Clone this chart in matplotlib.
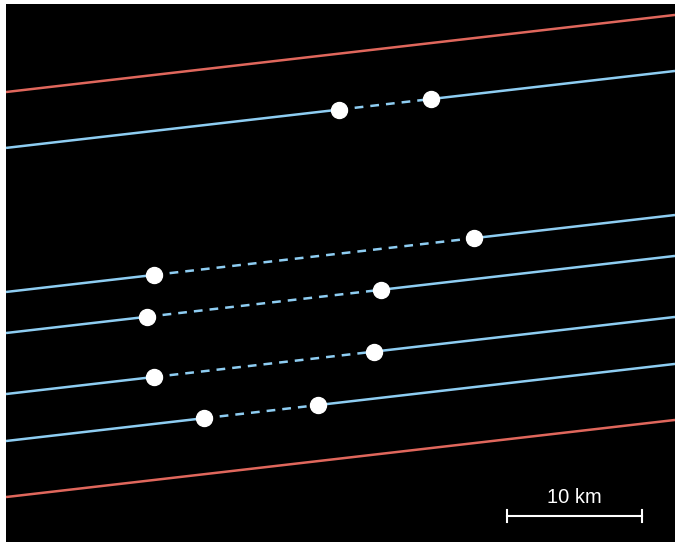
import matplotlib
matplotlib.use("Agg")
import matplotlib.pyplot as plt
import numpy as np

# Map extent (km)
x_max = 49.56
y_max = 39.85

# Lines: y at left edge (x=0) and right edge (x=x_max), in km
red_left = [33.33, 3.33]
red_right = [39.04, 9.04]
blue_left = [29.19, 18.52, 15.48, 10.96, 7.48]
blue_right = [34.89, 24.22, 21.19, 16.67, 13.19]
# Gap endpoints along each blue line (x in km)
gap_start = [24.67, 10.96, 10.44, 10.96, 14.67]
gap_end = [31.48, 34.67, 27.78, 27.26, 23.11]

scale_len = 10
scale_label = "10 km"

red = "#e0675c"
blue = "#8ecdf2"
LW = 1.8

fig = plt.figure(figsize=(6.75, 5.42), dpi=100)
ax = fig.add_axes([6/675, 0, 669/675, 538/542])
ax.set_facecolor("black")
ax.set_xlim(0, x_max)
ax.set_ylim(0, y_max)
ax.set_xticks([])
ax.set_yticks([])
for s in ax.spines.values():
    s.set_visible(False)

def yat(l, r, x):
    return l + (r - l) * x / x_max

for l, r in zip(red_left, red_right):
    ax.plot([0, x_max], [l, r], color=red, lw=LW, solid_capstyle="butt")

for l, r, a, b in zip(blue_left, blue_right, gap_start, gap_end):
    ya, yb = yat(l, r, a), yat(l, r, b)
    ax.plot([0, a], [l, ya], color=blue, lw=LW, solid_capstyle="butt")
    ax.plot([b, x_max], [yb, r], color=blue, lw=LW, solid_capstyle="butt")
    ax.plot([a, b], [ya, yb], color=blue, lw=LW, linestyle=(0, (3.5, 2.8)))
    ax.plot([a, b], [ya, yb], linestyle="none", marker="o", ms=11.5,
            mfc="white", mec="white", zorder=5)

# Scale bar
sx0 = (507 - 6) / 13.5
sy = (542 - 516) / 13.5
tick = 6 / 13.5
ax.plot([sx0, sx0 + scale_len], [sy, sy], color="white", lw=1.5)
ax.plot([sx0, sx0], [sy - tick, sy + tick], color="white", lw=1.5)
ax.plot([sx0 + scale_len, sx0 + scale_len], [sy - tick, sy + tick], color="white", lw=1.5)
ax.text(sx0 + scale_len / 2, (542 - 498) / 13.5, scale_label, color="white",
        ha="center", va="center", fontsize=14.5, family=["Liberation Sans", "DejaVu Sans"])

fig.savefig("out.png", dpi=100, facecolor="white")
